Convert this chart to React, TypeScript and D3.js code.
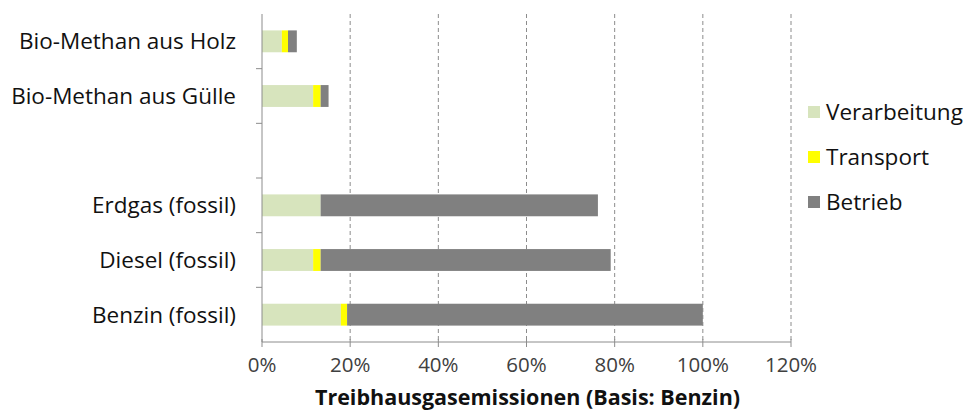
import React from "react";
import * as d3 from "d3";

const categories = ["Bio-Methan aus Holz", "Bio-Methan aus Gülle", "", "Erdgas (fossil)", "Diesel (fossil)", "Benzin (fossil)"];
const seriesNames = ["Verarbeitung", "Transport", "Betrieb"];
const verarbeitung = [4.5, 11.6, null, 13.3, 11.6, 17.9];
const transport = [1.4, 1.7, null, 0, 1.7, 1.4];
const betrieb = [2.0, 1.8, null, 62.9, 65.8, 80.7];
const colors = ["#d7e4bd", "#ffff00", "#808080"];
const xTicks = [0, 20, 40, 60, 80, 100, 120];
const xTitle = "Treibhausgasemissionen (Basis: Benzin)";

const W = 970, H = 412;
const font = "'Open Sans', sans-serif";

export default function App() {
  const m = { left: 262, right: 791, top: 14, bottom: 342 };
  const x = d3.scaleLinear().domain([0, 120]).range([m.left, m.right]);
  const y = d3.scaleBand<string>().domain(categories.map((c, i) => String(i))).range([m.top, m.bottom]).paddingInner(0.6).paddingOuter(0.3);
  const band = (m.bottom - m.top) / categories.length;
  const rows = categories.map((c, i) => ({ c, i, vals: [verarbeitung[i], transport[i], betrieb[i]] }));
  const stack = d3.stack<any>().keys(["0", "1", "2"]).value((d, k) => (d.vals[+k] ?? 0));
  const series = stack(rows);
  return (
    <svg width={W} height={H} style={{ position: "absolute", left: 0, top: 0, background: "#fff" }}>
      {xTicks.slice(1).map(t => (
        <line key={t} x1={x(t)} x2={x(t)} y1={m.top} y2={m.bottom} stroke="#8c8c8c" strokeDasharray="4,3" strokeWidth={1} />
      ))}
      {series.map((s, si) => s.map((d, i) => (
        rows[i].vals[si] ? (
          <rect key={si + "-" + i} x={x(d[0])} width={x(d[1]) - x(d[0])} y={y(String(i))!} height={y.bandwidth()} fill={colors[si]} />
        ) : null
      )))}
      <line x1={m.left} x2={m.left} y1={m.top} y2={m.bottom} stroke="#8c8c8c" />
      <line x1={m.left} x2={m.right} y1={m.bottom} y2={m.bottom} stroke="#8c8c8c" />
      {categories.slice(1).map((c, i) => (
        <line key={i} x1={m.left - 6} x2={m.left} y1={m.top + band * (i + 1)} y2={m.top + band * (i + 1)} stroke="#8c8c8c" />
      ))}
      {xTicks.map(t => (
        <g key={t}>
          <line x1={x(t)} x2={x(t)} y1={m.bottom - 3} y2={m.bottom + 5} stroke="#8c8c8c" />
          <text x={x(t)} y={m.bottom + 30} textAnchor="middle" fontFamily={font} fontSize={20.5} fill="#404040">{t}%</text>
        </g>
      ))}
      {categories.map((c, i) => (
        <text key={i} x={236} y={y(String(i))! + y.bandwidth() / 2} dy="0.35em" textAnchor="end" fontFamily={font} fontSize={22.5} fill="#111">{c}</text>
      ))}
      <text x={(m.left + m.right) / 2 + 1} y={405} textAnchor="middle" fontFamily={font} fontSize={21.5} fontWeight="bold" fill="#111">{xTitle}</text>
      {seriesNames.map((n, i) => (
        <g key={n}>
          <rect x={808} y={106 + i * 45} width={12} height={12} fill={colors[i]} />
          <text x={826} y={112 + i * 45} dy="0.35em" fontFamily={font} fontSize={22.5} fill="#111">{n}</text>
        </g>
      ))}
    </svg>
  );
}
